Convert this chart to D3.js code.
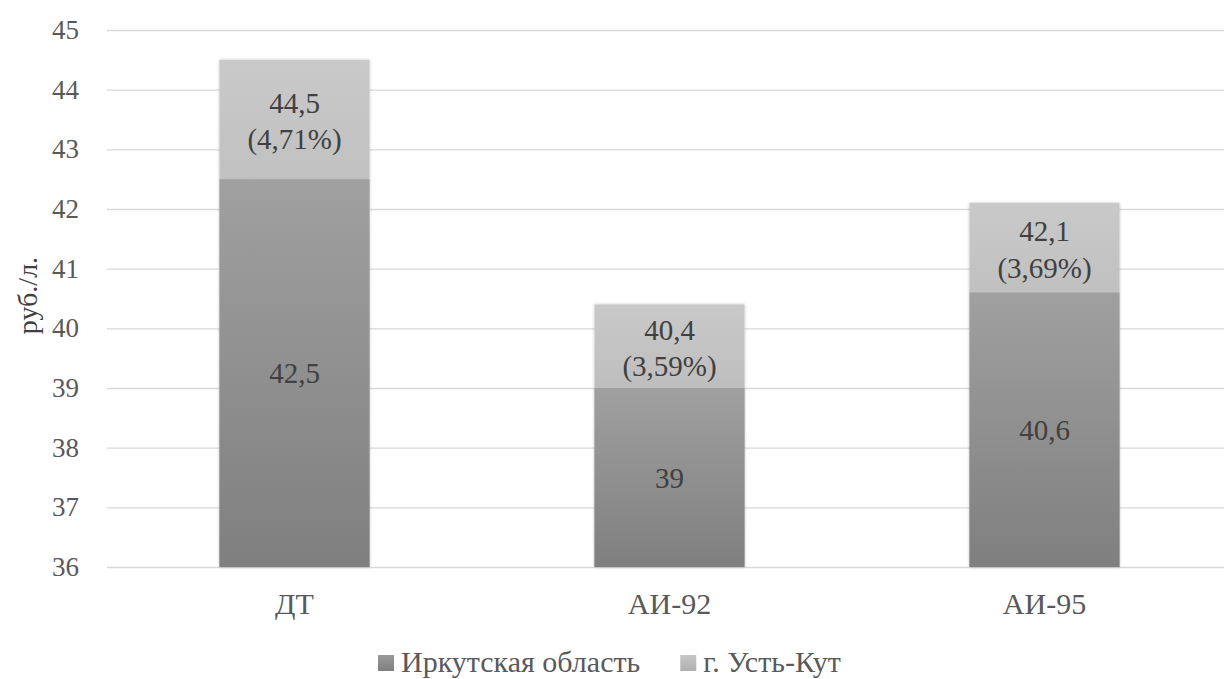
<!DOCTYPE html>
<html>
<head>
<meta charset="utf-8">
<script src="https://cdn.jsdelivr.net/npm/d3@7"></script>
</head>
<body style="margin:0">
<svg id="chart" width="1224" height="679" style="display:block;background:#fff"></svg>
<script>
// Fuel prices, rub per litre
const categories = ["ДТ", "АИ-92", "АИ-95"];
const regionPrices = [42.5, 39, 40.6];      // Иркутская область
const cityPrices = [44.5, 40.4, 42.1];      // г. Усть-Кут
const seriesNames = ["Иркутская область", "г. Усть-Кут"];
const yTicks = [36, 37, 38, 39, 40, 41, 42, 43, 44, 45];

const FONT = "Tinos, 'Liberation Serif', 'Times New Roman', serif";
const fmt = v => String(v).replace(".", ",");
const fmtPct = v => v.toFixed(2).replace(".", ",") + "%";

const svg = d3.select("#chart");
const margin = { left: 107, right: -8, top: 30, bottom: 112 };
const W = 1224, H = 679;

const x = d3.scaleBand()
  .domain(categories)
  .range([margin.left, W - margin.right])
  .paddingInner(0.6)
  .paddingOuter(0.3);

const y = d3.scaleLinear()
  .domain([36, 45])
  .range([H - margin.bottom, margin.top]);

const defs = svg.append("defs");

function gradient(id, top, bottom) {
  const g = defs.append("linearGradient")
    .attr("id", id).attr("x1", 0).attr("y1", 0).attr("x2", 0).attr("y2", 1);
  g.append("stop").attr("offset", "0%").attr("stop-color", top);
  g.append("stop").attr("offset", "100%").attr("stop-color", bottom);
}
gradient("gradCity", "#c9c9c9", "#a6a6a6");
gradient("gradRegion", "#a0a0a0", "#7f7f7f");
gradient("gradKeyRegion", "#9a9a9a", "#7f7f7f");
gradient("gradKeyCity", "#c6c6c6", "#b0b0b0");

const shadow = defs.append("filter").attr("id", "soft")
  .attr("x", "-10%").attr("y", "-10%").attr("width", "120%").attr("height", "120%");
shadow.append("feDropShadow")
  .attr("dx", 0).attr("dy", 0).attr("stdDeviation", 1.5)
  .attr("flood-color", "#000").attr("flood-opacity", 0.25);

// Gridlines
svg.append("g")
  .attr("transform", `translate(${margin.left},0)`)
  .call(d3.axisLeft(y).tickValues(yTicks).tickSize(-(W - margin.left)).tickFormat(""))
  .call(g => g.select(".domain").remove())
  .call(g => g.selectAll("line").attr("stroke", "#d9d9d9").attr("stroke-width", 1.3));

// Y tick labels
svg.append("g")
  .attr("transform", `translate(${margin.left - 28},0)`)
  .call(d3.axisLeft(y).tickValues(yTicks).tickSize(0).tickPadding(0).tickFormat(d => fmt(d)))
  .attr("font-family", FONT)
  .call(g => g.select(".domain").remove())
  .call(g => g.selectAll("text")
    .attr("fill", "#595959")
    .attr("font-size", 27));

// Y axis title
svg.append("text")
  .attr("transform", `translate(37,${y(40.55)}) rotate(-90)`)
  .attr("text-anchor", "middle")
  .attr("fill", "#404040")
  .attr("font-family", FONT)
  .attr("font-size", 28)
  .text("руб./л.");

// Bars: city price behind, region price in front
const rows = categories.map((c, i) => ({ c, region: regionPrices[i], city: cityPrices[i] }));

svg.append("g").selectAll("rect")
  .data(rows).join("rect")
  .attr("x", d => x(d.c))
  .attr("width", x.bandwidth())
  .attr("y", d => y(d.city))
  .attr("height", d => y(36) - y(d.city))
  .attr("fill", "url(#gradCity)")
  .attr("filter", "url(#soft)");

svg.append("g").selectAll("rect")
  .data(rows).join("rect")
  .attr("x", d => x(d.c))
  .attr("width", x.bandwidth())
  .attr("y", d => y(d.region))
  .attr("height", d => y(36) - y(d.region))
  .attr("fill", "url(#gradRegion)");

// Value labels
const labels = svg.append("g")
  .attr("fill", "#404040")
  .attr("text-anchor", "middle")
  .attr("font-family", FONT)
  .attr("font-size", 29);

labels.selectAll("text.region")
  .data(rows).join("text")
  .attr("class", "region")
  .attr("x", d => x(d.c) + x.bandwidth() / 2)
  .attr("y", d => (y(d.region) + y(36)) / 2)
  .attr("dy", "0.35em")
  .text(d => fmt(d.region));

const cityLabel = labels.selectAll("text.city")
  .data(rows).join("text")
  .attr("class", "city")
  .attr("x", d => x(d.c) + x.bandwidth() / 2)
  .attr("y", d => (y(d.city) + y(d.region)) / 2);
cityLabel.append("tspan")
  .attr("x", d => x(d.c) + x.bandwidth() / 2)
  .attr("dy", "-0.22em")
  .text(d => fmt(d.city));
cityLabel.append("tspan")
  .attr("x", d => x(d.c) + x.bandwidth() / 2)
  .attr("dy", "1.25em")
  .text(d => "(" + fmtPct((d.city - d.region) / d.region * 100) + ")");

// Category axis labels
svg.append("g")
  .attr("transform", `translate(0,${y(36)})`)
  .call(d3.axisBottom(x).tickSize(0).tickPadding(26))
  .attr("font-family", FONT)
  .call(g => g.select(".domain").remove())
  .call(g => g.selectAll("text")
    .attr("fill", "#595959")
    .attr("font-size", 30));

// Legend
const legend = svg.append("g")
  .attr("transform", "translate(378,672)")
  .attr("font-family", FONT);
const keyFills = ["url(#gradKeyRegion)", "url(#gradKeyCity)"];
let offset = 0;
seriesNames.forEach((name, i) => {
  const g = legend.append("g").attr("transform", `translate(${offset},0)`);
  g.append("rect").attr("x", 0).attr("y", -17).attr("width", 16).attr("height", 16)
    .attr("fill", keyFills[i]);
  const t = g.append("text").attr("x", 23).attr("y", 0)
    .attr("fill", "#595959")
    .attr("font-size", 30)
    .text(name);
  offset += 23 + t.node().getComputedTextLength() + 40;
});
</script>
</body>
</html>
